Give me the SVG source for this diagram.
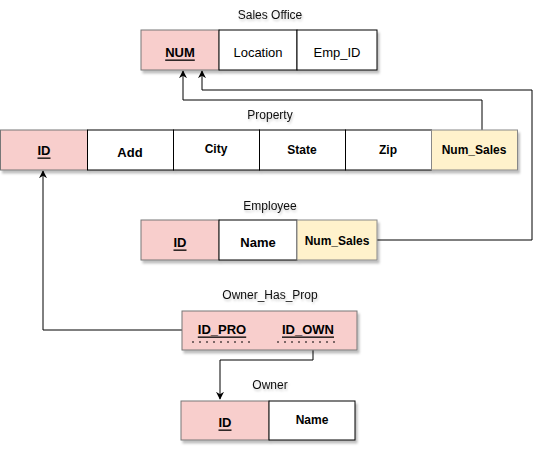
<svg xmlns="http://www.w3.org/2000/svg" width="552" height="452" viewBox="0 0 552 452">
<defs>
<filter id="sh" x="-10%" y="-10%" width="130%" height="140%">
<feDropShadow dx="2" dy="3" stdDeviation="1.2" flood-color="#000" flood-opacity="0.25"/>
</filter>
<filter id="tsh" x="-10%" y="-30%" width="130%" height="180%">
<feDropShadow dx="1" dy="2" stdDeviation="1" flood-color="#000" flood-opacity="0.2"/>
</filter>
<marker id="arr" viewBox="0 0 10 10" refX="9" refY="5" markerWidth="8" markerHeight="8" markerUnits="userSpaceOnUse" orient="auto">
<path d="M0,0 L10,5 L0,10 L3,5 Z" fill="#000"/>
</marker>
</defs>
<style>
text{font-family:"Liberation Sans",Arial,sans-serif;fill:#000;text-anchor:middle;dominant-baseline:central}
.t{font-size:12px;fill:#111}
.c{font-size:13px}
.b{font-weight:bold}
.s{font-size:12px}
.u{text-decoration:underline}
.pk{fill:#f8cecc;stroke:#777;stroke-width:1}
.yl{fill:#fff2cc;stroke:#888;stroke-width:1}
.wh{fill:#fff;stroke:#000;stroke-width:1}
.ln{fill:none;stroke:#000;stroke-width:1}
.dot{fill:none;stroke:#000;stroke-width:2;stroke-dasharray:1 6}
</style>
<g id="connectors">
<path class="ln" d="M377,240 H532 V90 H202 V71" marker-end="url(#arr)"/>
<path class="ln" d="M482,130 V100 H183 V71" marker-end="url(#arr)"/>
<path class="ln" d="M182,330 H43 V171" marker-end="url(#arr)"/>
<path class="ln" d="M313,350 V360 H220 V399" marker-end="url(#arr)"/>
</g>
<g id="sales_office">
<text class="t" x="270" y="15" filter="url(#tsh)">Sales Office</text>
<g filter="url(#sh)">
<rect class="pk" x="141" y="30" width="78" height="40"/>
<rect class="wh" x="219" y="30" width="78" height="40"/>
<rect class="wh" x="297" y="30" width="80" height="40"/>
</g>
<text class="c b u" x="180" y="52">NUM</text>
<text class="c" x="258" y="52">Location</text>
<text class="c" x="337" y="52">Emp_ID</text>
</g>
<g id="property">
<text class="t" x="270" y="115" filter="url(#tsh)">Property</text>
<g filter="url(#sh)">
<rect class="pk" x="0.5" y="130" width="87" height="40"/>
<rect class="wh" x="87.5" y="130" width="86" height="40"/>
<rect class="wh" x="173.5" y="130" width="86" height="40"/>
<rect class="wh" x="259.5" y="130" width="86" height="40"/>
<rect class="wh" x="345.5" y="130" width="86" height="40"/>
<rect class="yl" x="431.5" y="130" width="86" height="40"/>
</g>
<text class="c b u" x="44" y="150">ID</text>
<text class="c b" x="130" y="152">Add</text>
<text class="s b" x="216" y="149">City</text>
<text class="s b" x="302" y="150">State</text>
<text class="s b" x="388" y="150">Zip</text>
<text class="s b" x="474" y="150">Num_Sales</text>
</g>
<g id="employee">
<text class="t" x="270" y="206" filter="url(#tsh)">Employee</text>
<g filter="url(#sh)">
<rect class="pk" x="141" y="220" width="78" height="40"/>
<rect class="wh" x="219" y="220" width="78" height="40"/>
<rect class="yl" x="297" y="220" width="80" height="40"/>
</g>
<text class="c b u" x="180" y="242">ID</text>
<text class="c b" x="258" y="242">Name</text>
<text class="s b" x="337" y="241">Num_Sales</text>
</g>
<g id="owner_has_prop">
<text class="t" x="270" y="295" filter="url(#tsh)">Owner_Has_Prop</text>
<rect class="pk" x="182" y="311" width="175" height="39" filter="url(#sh)"/>
<text class="c b u" x="222" y="329">ID_PRO</text>
<text class="c b u" x="308" y="329">ID_OWN</text>
<path class="dot" d="M192.5,342 H252"/>
<path class="dot" d="M277.5,342 H337"/>
</g>
<g id="owner">
<text class="t" x="270" y="385" filter="url(#tsh)">Owner</text>
<g filter="url(#sh)">
<rect class="pk" x="181" y="401" width="88" height="39"/>
<rect class="wh" x="269" y="401" width="86" height="39"/>
</g>
<text class="c b u" x="225" y="422">ID</text>
<text class="s b" x="312" y="420">Name</text>
</g>
</svg>
